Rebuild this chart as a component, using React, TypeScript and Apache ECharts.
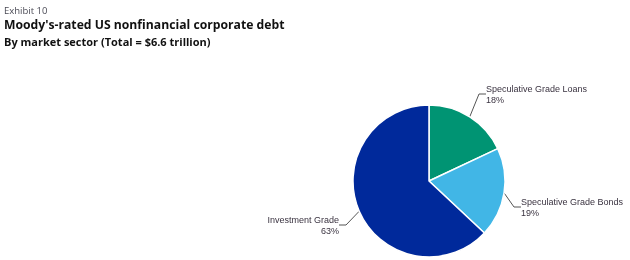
import React, { useEffect, useRef } from "react";
import * as echarts from "echarts";

const categories = ["Speculative Grade Loans", "Speculative Grade Bonds", "Investment Grade"];
const values = [18, 19, 63];
const colors = ["#009473", "#41b6e6", "#00299b"];

export default function App() {
  const ref = useRef<HTMLDivElement>(null);
  useEffect(() => {
    const chart = echarts.init(ref.current!, null, { renderer: "svg" });
    const labelPos = [
      { x: 486, y: 94, align: "left" },
      { x: 521, y: 207, align: "left" },
      { x: 339, y: 225, align: "right" },
    ];
    chart.setOption({
      animation: false,
      title: [
        { text: "Exhibit 10", left: 4, top: 5, padding: 0, textStyle: { fontFamily: "Open Sans", fontSize: 9.5, fontWeight: "normal", color: "#4a4a55" } },
        { text: "Moody's-rated US nonfinancial corporate debt", left: 4, top: 18, padding: 0, textStyle: { fontFamily: "Open Sans", fontSize: 12.2, fontWeight: "bold", color: "#111" } },
        { text: "By market sector (Total = $6.6 trillion)", left: 4, top: 36, padding: 0, textStyle: { fontFamily: "Open Sans", fontSize: 11, fontWeight: "bold", color: "#111" } },
      ],
      series: [
        {
          type: "pie",
          center: [429, 181],
          radius: 76,
          startAngle: 90,
          clockwise: true,
          avoidLabelOverlap: false,
          data: categories.map((c, i) => ({
            name: c,
            value: values[i],
            itemStyle: { color: colors[i] },
          })),
          itemStyle: { borderColor: "#fff", borderWidth: 1.5 },
          label: {
            formatter: "{b}\n{d}%",
            fontFamily: "Liberation Sans",
            fontSize: 9,
            color: "#3a3340",
            lineHeight: 11,
            overflow: "none",
            distanceToLabelLine: 3,
          },
          labelLine: { length: 13, length2: 7, lineStyle: { color: "#555", width: 1 } },
          labelLayout: (p: any) => ({ ...labelPos[p.dataIndex], verticalAlign: "middle" }),
        },
      ],
    });
    return () => chart.dispose();
  }, []);
  return <div ref={ref} style={{ position: "fixed", left: 0, top: 0, width: 630, height: 260 }} />;
}
